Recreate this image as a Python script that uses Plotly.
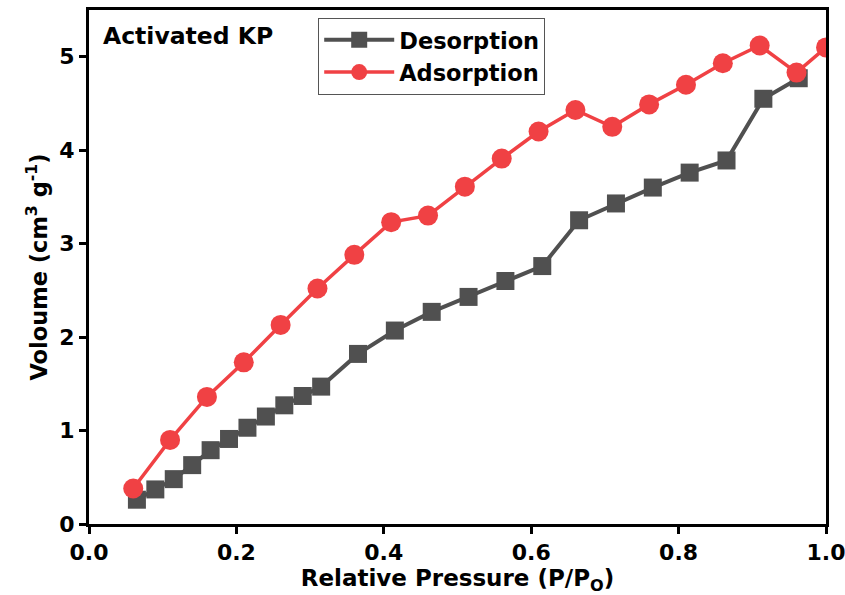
import plotly.graph_objects as go

# Desorption (squares)
des_x = [0.065, 0.09, 0.115, 0.14, 0.165, 0.19, 0.215, 0.24, 0.265, 0.29, 0.315,
         0.365, 0.415, 0.465, 0.515, 0.565, 0.615, 0.665, 0.715, 0.765, 0.815,
         0.865, 0.915, 0.963]
des_y = [0.26, 0.37, 0.48, 0.63, 0.79, 0.91, 1.03, 1.15, 1.27, 1.37, 1.47,
         1.82, 2.07, 2.27, 2.43, 2.60, 2.76, 3.25, 3.43, 3.60, 3.76,
         3.89, 4.55, 4.77]

# Adsorption (circles)
ads_x = [0.06, 0.11, 0.16, 0.21, 0.26, 0.31, 0.36, 0.41, 0.46, 0.51,
         0.56, 0.61, 0.66, 0.71, 0.76, 0.81, 0.86, 0.91, 0.96, 1.0]
ads_y = [0.38, 0.90, 1.36, 1.73, 2.13, 2.52, 2.88, 3.23, 3.30, 3.61,
         3.91, 4.20, 4.43, 4.25, 4.49, 4.70, 4.93, 5.12, 4.83, 5.10]

x_ticks = [0.0, 0.2, 0.4, 0.6, 0.8, 1.0]
y_ticks = [0, 1, 2, 3, 4, 5]

FONT = "DejaVu Sans"
GRAY = "#505050"
RED = "#f04144"

def bold(size):
    return dict(family=FONT, size=size, color="black", weight="bold")

fig = go.Figure()
fig.add_trace(go.Scatter(
    x=des_x, y=des_y, mode="lines+markers", name="Desorption",
    line=dict(color=GRAY, width=4),
    marker=dict(symbol="square", size=18, color=GRAY),
))
fig.add_trace(go.Scatter(
    x=ads_x, y=ads_y, mode="lines+markers", name="Adsorption",
    line=dict(color=RED, width=3.5),
    marker=dict(symbol="circle", size=20, color=RED),
))

axis_common = dict(
    showline=True, linewidth=3, linecolor="black", mirror=True,
    ticks="outside", ticklen=7, tickwidth=2.5, tickcolor="black",
    showgrid=False, zeroline=False, automargin=False,
    ticklabeloverflow="allow",
    tickfont=bold(22),
)

fig.update_layout(
    width=845, height=595,
    margin=dict(l=89, r=19, t=10, b=71),
    paper_bgcolor="white", plot_bgcolor="white",
    font=dict(family=FONT, color="black"),
    xaxis=dict(
        range=[0, 1], tickvals=x_ticks, ticktext=[f"{v:.1f}" for v in x_ticks],
        title=dict(text="Relative Pressure (P/P<sub>O</sub>)",
                   font=bold(23), standoff=2),
        **axis_common,
    ),
    yaxis=dict(
        range=[0, 5.5], tickvals=y_ticks, ticktext=[f"{v}" for v in y_ticks],
        title=dict(text="Voloume (cm<sup>3</sup> g<sup>-1</sup>)",
                   font=bold(22.5), standoff=6),
        **axis_common,
    ),
    legend=dict(
        x=0.311, y=0.985, xanchor="left", yanchor="top",
        bordercolor="#555555", borderwidth=1, bgcolor="white",
        font=bold(22.5),
        itemwidth=70, tracegroupgap=0,
    ),
    showlegend=True,
    annotations=[dict(
        text="Activated KP", xref="paper", yref="paper",
        x=0.016, y=0.949, xanchor="left", yanchor="middle",
        showarrow=False, font=bold(23.5),
    )],
)

fig.write_html("out.html")
